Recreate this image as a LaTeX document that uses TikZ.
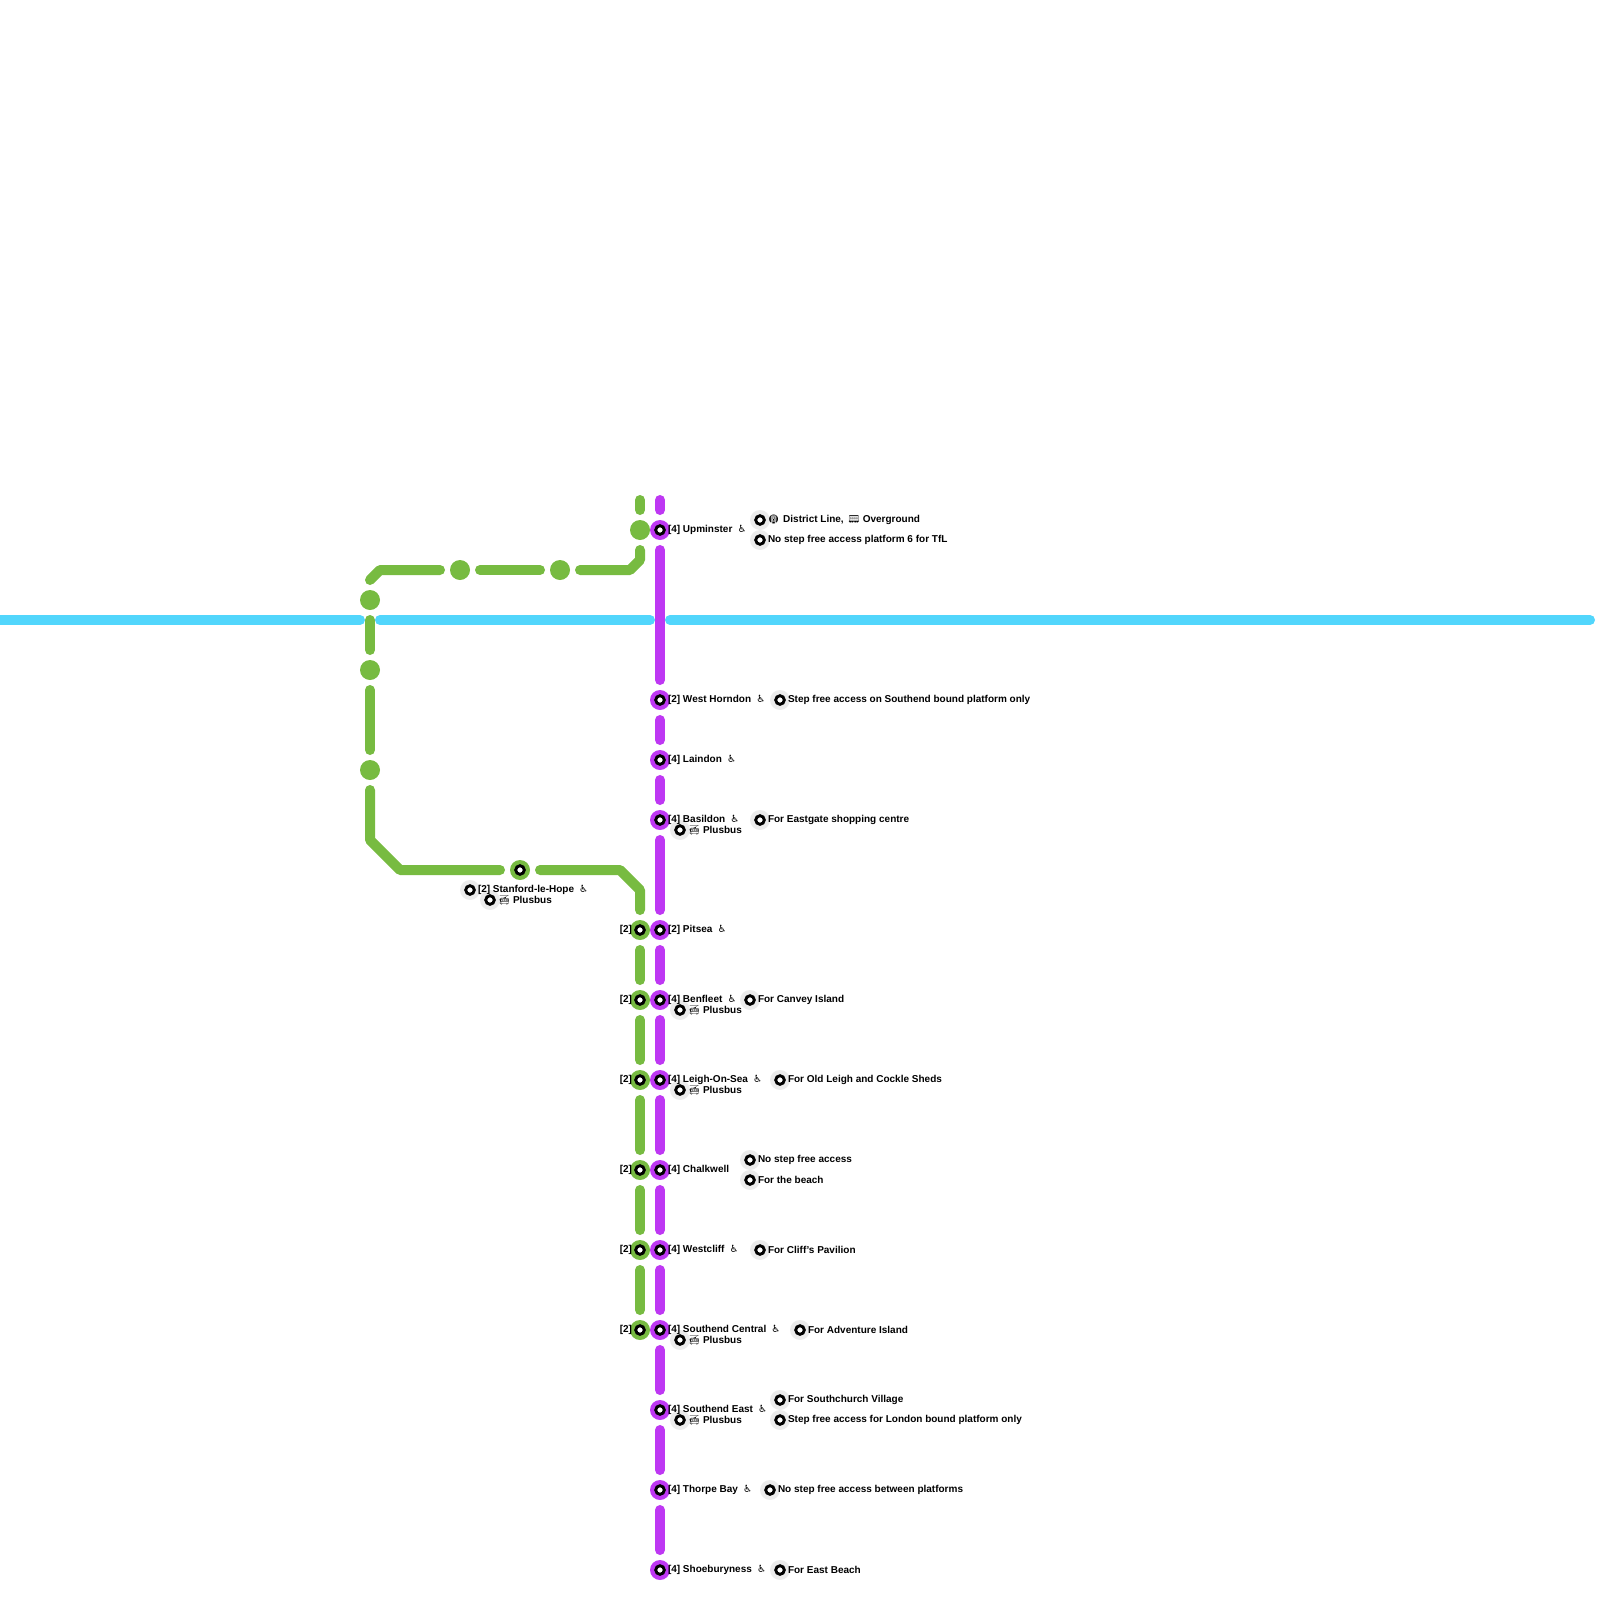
\documentclass[tikz,border=0pt]{standalone}
\usepackage{fontspec}
\setmainfont{Liberation Sans}
\newfontfamily\iconfont{Noto Emoji}
\newfontfamily\chairfont{DejaVu Sans}
\usetikzlibrary{positioning}
\definecolor{c2cgreen}{HTML}{77BB41}
\definecolor{elizpurple}{HTML}{BE38F3}
\definecolor{jubblue}{HTML}{52D6FC}
\definecolor{notegrey}{HTML}{EBEBEB}
\newcommand{\wchair}{\hspace{2.6pt}\makebox[4.4pt]{\chairfont\fontsize{5}{6}\selectfont\char"267F}}
\newcommand{\smallicon}[1]{\makebox[4.7pt]{\iconfont\fontsize{4.4}{5}\selectfont\char"#1}}
\newcommand{\plusbus}{\hspace{0.7pt}\smallicon{1F68E}\hspace{2.1pt}Plusbus}
\tikzset{
  ringmark/.style={circle,minimum size=10pt,inner sep=0pt,outer sep=0pt,fill=#1,
    path picture={\draw[black,line width=1.45pt,fill=white]
      (path picture bounding box.center) circle (2.15pt);}},
  plainstop/.style={circle,minimum size=10pt,inner sep=0pt,outer sep=0pt,fill=c2cgreen},
  routeline/.style={line width=5pt,line cap=round,line join=round,draw=#1,
    shorten <=5pt,shorten >=5pt},
  stoptext/.style={inner sep=0pt,outer sep=0pt,font=\bfseries\fontsize{5}{6}\selectfont,text=black},
}
\begin{document}
\begin{tikzpicture}[x=0.5pt,y=-0.5pt,node distance=-1pt]
  \useasboundingbox (0,0) rectangle (1600,1600);
  % river line
  \coordinate (w0) at (-10,620);
  \coordinate (w1) at (370,620);
  \coordinate (w2) at (660,620);
  \coordinate (w3) at (1600,620);
  \draw[routeline=jubblue,shorten <=0pt] (w0) -- (w1);
  \draw[routeline=jubblue] (w1) -- (w2);
  \draw[routeline=jubblue] (w2) -- (w3);
  % stops, purple
  \foreach \name/\ypos in {upm/530,whn/700,lai/760,bas/820,pit/930,ben/1000,
    lei/1080,cha/1170,wes/1250,sou/1330,sea/1410,tho/1490,sho/1570}
    \node[ringmark=elizpurple] (p\name) at (660,\ypos) {};
  % stops, green
  \foreach \name/\ypos in {pit/930,ben/1000,lei/1080,cha/1170,wes/1250,sou/1330}
    \node[ringmark=c2cgreen] (g\name) at (640,\ypos) {};
  \node[ringmark=c2cgreen] (gsta) at (520,870) {};
  \node[plainstop] (gupm) at (640,530) {};
  \node[plainstop] (gcra) at (560,570) {};
  \node[plainstop] (gock) at (460,570) {};
  \node[plainstop] (gpur) at (370,600) {};
  \node[plainstop] (grai) at (370,670) {};
  \node[plainstop] (ggra) at (370,770) {};
  % line ends and bends
  \coordinate (gtop) at (640,490);
  \coordinate (ptop) at (660,490);
  \coordinate (g1) at (640,560);
  \coordinate (g2) at (630,570);
  \coordinate (g3) at (380,570);
  \coordinate (g4) at (370,580);
  \coordinate (g5) at (370,840);
  \coordinate (g6) at (400,870);
  \coordinate (g7) at (620,870);
  \coordinate (g8) at (640,890);
  % purple line
  \draw[routeline=elizpurple] (ptop) -- (pupm);
  \draw[routeline=elizpurple] (pupm) -- (pwhn);
  \draw[routeline=elizpurple] (pwhn) -- (plai);
  \draw[routeline=elizpurple] (plai) -- (pbas);
  \draw[routeline=elizpurple] (pbas) -- (ppit);
  \draw[routeline=elizpurple] (ppit) -- (pben);
  \draw[routeline=elizpurple] (pben) -- (plei);
  \draw[routeline=elizpurple] (plei) -- (pcha);
  \draw[routeline=elizpurple] (pcha) -- (pwes);
  \draw[routeline=elizpurple] (pwes) -- (psou);
  \draw[routeline=elizpurple] (psou) -- (psea);
  \draw[routeline=elizpurple] (psea) -- (ptho);
  \draw[routeline=elizpurple] (ptho) -- (psho);
  % green line
  \draw[routeline=c2cgreen] (gtop) -- (gupm);
  \draw[routeline=c2cgreen] (gupm) -- (g1) -- (g2) -- (gcra);
  \draw[routeline=c2cgreen] (gcra) -- (gock);
  \draw[routeline=c2cgreen] (gock) -- (g3) -- (g4) -- (gpur);
  \draw[routeline=c2cgreen] (gpur) -- (grai);
  \draw[routeline=c2cgreen] (grai) -- (ggra);
  \draw[routeline=c2cgreen] (ggra) -- (g5) -- (g6) -- (gsta);
  \draw[routeline=c2cgreen] (gsta) -- (g7) -- (g8) -- (gpit);
  \draw[routeline=c2cgreen] (gpit) -- (gben);
  \draw[routeline=c2cgreen] (gben) -- (glei);
  \draw[routeline=c2cgreen] (glei) -- (gcha);
  \draw[routeline=c2cgreen] (gcha) -- (gwes);
  \draw[routeline=c2cgreen] (gwes) -- (gsou);
  % note markers
  \foreach \name/\xpos/\ypos in {upma/760/520,upmb/760/540,whna/780/700,basa/680/830,basb/760/820,
    staa/470/890,stab/490/900,bena/680/1010,benb/750/1000,leia/680/1090,leib/780/1080,
    chaa/750/1160,chab/750/1180,wesa/760/1250,soua/680/1340,soub/800/1330,
    seaa/680/1420,seab/780/1400,seac/780/1420,thoa/770/1490,shoa/780/1570}
    \node[ringmark=notegrey] (n\name) at (\xpos,\ypos) {};
  % stop names
  \node[stoptext,right=of pupm] (tupm) {[4] Upminster\wchair};
  \node[stoptext,right=of pwhn] (twhn) {[2] West Horndon\wchair};
  \node[stoptext,right=of plai] (tlai) {[4] Laindon\wchair};
  \node[stoptext,right=of pbas] (tbas) {[4] Basildon\wchair};
  \node[stoptext,right=of ppit] (tpit) {[2] Pitsea\wchair};
  \node[stoptext,right=of pben] (tben) {[4] Benfleet\wchair};
  \node[stoptext,right=of plei] (tlei) {[4] Leigh-On-Sea\wchair};
  \node[stoptext,right=of pcha] (tcha) {[4] Chalkwell};
  \node[stoptext,right=of pwes] (twes) {[4] Westcliff\wchair};
  \node[stoptext,right=of psou] (tsou) {[4] Southend Central\wchair};
  \node[stoptext,right=of psea] (tsea) {[4] Southend East\wchair};
  \node[stoptext,right=of ptho] (ttho) {[4] Thorpe Bay\wchair};
  \node[stoptext,right=of psho] (tsho) {[4] Shoeburyness\wchair};
  \node[stoptext,right=of nstaa] (tsta) {[2] Stanford-le-Hope\wchair};
  \node[stoptext,left=of gpit] (tgpit) {[2]};
  \node[stoptext,left=of gben] (tgben) {[2]};
  \node[stoptext,left=of glei] (tglei) {[2]};
  \node[stoptext,left=of gcha] (tgcha) {[2]};
  \node[stoptext,left=of gwes] (tgwes) {[2]};
  \node[stoptext,left=of gsou] (tgsou) {[2]};
  % notes
  \node[stoptext,right=of nupma] (xupma) {\hspace{0.5pt}\smallicon{1F687}\hspace{2.4pt}District Line,\hspace{2.8pt}\smallicon{1F683}\hspace{2pt}Overground};
  \node[stoptext,right=of nupmb] (xupmb) {No step free access platform 6 for TfL};
  \node[stoptext,right=of nwhna] (xwhna) {Step free access on Southend bound platform only};
  \node[stoptext,right=of nbasa] (xbasa) {\plusbus};
  \node[stoptext,right=of nbasb] (xbasb) {For Eastgate shopping centre};
  \node[stoptext,right=of nstab] (xstab) {\plusbus};
  \node[stoptext,right=of nbena] (xbena) {\plusbus};
  \node[stoptext,right=of nbenb] (xbenb) {For Canvey Island};
  \node[stoptext,right=of nleia] (xleia) {\plusbus};
  \node[stoptext,right=of nleib] (xleib) {For Old Leigh and Cockle Sheds};
  \node[stoptext,right=of nchaa] (xchaa) {No step free access};
  \node[stoptext,right=of nchab] (xchab) {For the beach};
  \node[stoptext,right=of nwesa] (xwesa) {For Cliff's Pavilion};
  \node[stoptext,right=of nsoua] (xsoua) {\plusbus};
  \node[stoptext,right=of nsoub] (xsoub) {For Adventure Island};
  \node[stoptext,right=of nseaa] (xseaa) {\plusbus};
  \node[stoptext,right=of nseab] (xseab) {For Southchurch Village};
  \node[stoptext,right=of nseac] (xseac) {Step free access for London bound platform only};
  \node[stoptext,right=of nthoa] (xthoa) {No step free access between platforms};
  \node[stoptext,right=of nshoa] (xshoa) {For East Beach};
\end{tikzpicture}
\end{document}
